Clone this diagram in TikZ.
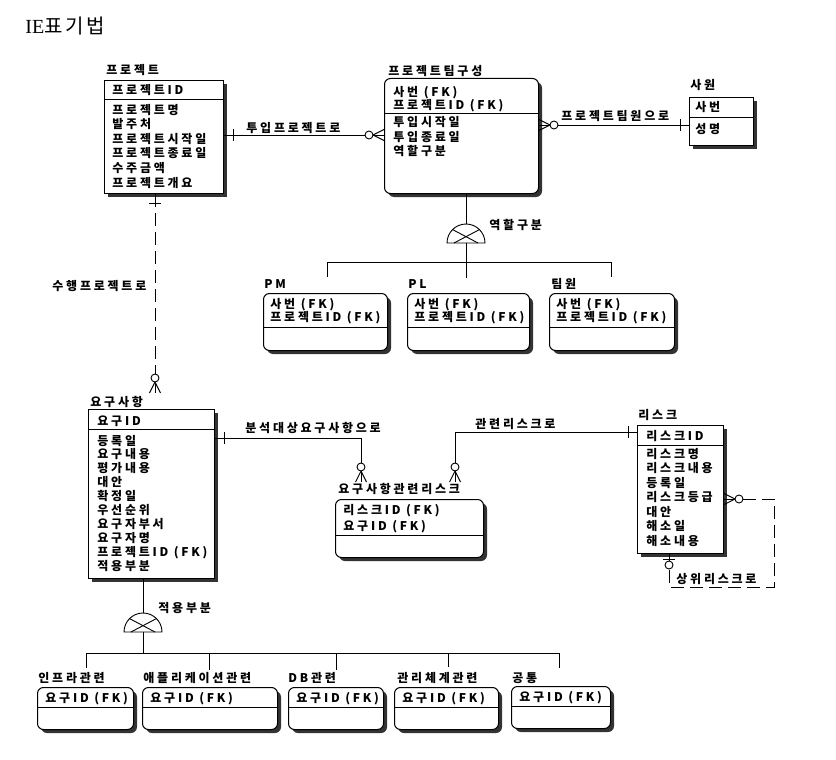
\documentclass[tikz,border=0pt]{standalone}
\usepackage{fontspec}
\newfontfamily\kr[LetterSpace=23]{Noto Sans CJK KR}
\newfontfamily\krt[LetterSpace=14]{Noto Sans CJK KR}
\newfontfamily\serifT{Liberation Serif}
\usetikzlibrary{shadows,calc}
\newcommand\erZmany[2]{\begin{scope}[shift={#1},rotate=#2]
  \draw (0,-5.5) -- (11,0) -- (0,5.5);
  \draw[fill=white] (15,0) circle[radius=4pt];
\end{scope}}
\newcommand\erOne[2]{\begin{scope}[shift={#1},rotate=#2]
  \draw (9,-6) -- (9,6);
\end{scope}}
\newcommand\erZone[2]{\begin{scope}[shift={#1},rotate=#2]
  \draw (5,-6) -- (5,6);
  \draw[fill=white] (11,0) circle[radius=4pt];
\end{scope}}
\newcommand\subsym[1]{%
  \draw ($(#1)+(-19,0)$) arc[start angle=180,end angle=0,radius=19pt] -- cycle;
  \draw ($(#1)+(-13.4,-13.4)$) -- ($(#1)+(12,0)$);
  \draw ($(#1)+(13.4,-13.4)$) -- ($(#1)+(-12,0)$);}
\begin{document}
\begin{tikzpicture}[x=1pt,y=-1pt,line width=0.9pt,
  ent/.style={draw,fill=white,line width=1pt,anchor=north west,inner sep=0pt,
    general shadow={fill=black!80,shadow xshift=3.5pt,shadow yshift=-3.5pt}},
  dep/.style={ent,rounded corners=6pt},
  lab/.style={font=\kr\bfseries\fontsize{12}{13}\selectfont,anchor=base west,inner sep=0pt},
  dsh/.style={dash pattern=on 13pt off 6pt}]
\useasboundingbox (0,0) rectangle (836,760);
\fill[white] (0,0) rectangle (836,760);

% title
\node[anchor=base west,inner sep=0pt] (title) at (25,34) {\fontsize{20}{22}\selectfont\serifT IE\krt 표기법};

% ---------- 프로젝트 ----------
\node[ent,minimum width=119pt,minimum height=113pt] (proj) at (104,80) {};
\draw ($(proj.north west)+(0,19)$) -- ($(proj.north east)+(0,19)$);
\node[lab] (projl) at (106,75) {프로젝트};
\node[lab] (projk) at (112,95) {프로젝트ID};
\foreach \t [count=\i] in {프로젝트명,발주처,프로젝트시작일,프로젝트종료일,수주금액,프로젝트개요}
  \node[lab] (pa\i) at (112,{114+14.6*(\i-1)}) {\t};

% ---------- 프로젝트팀구성 ----------
\node[dep,minimum width=154pt,minimum height=115pt] (team) at (384,78) {};
\draw ($(team.north west)+(0,35)$) -- ($(team.north east)+(0,35)$);
\node[lab] (teaml) at (388,75.5) {프로젝트팀구성};
\node[lab] (tk1) at (393,96) {사번 (FK)};
\node[lab] (tk2) at (393,109.5) {프로젝트ID (FK)};
\foreach \t [count=\i] in {투입시작일,투입종료일,역할구분}
  \node[lab] (ta\i) at (393,{127+14*(\i-1)}) {\t};

% ---------- 사원 ----------
\node[ent,minimum width=64pt,minimum height=48pt] (emp) at (689,97) {};
\draw ($(emp.north west)+(0,20)$) -- ($(emp.north east)+(0,20)$);
\node[lab] (empl) at (690,89.5) {사원};
\node[lab] (ek) at (695,112) {사번};
\node[lab] (ea) at (695,133) {성명};

% ---------- PM / PL / 팀원 ----------
\node[dep,minimum width=124pt,minimum height=57pt] (pm) at (263,293) {};
\node[dep,minimum width=122pt,minimum height=57pt] (pl) at (407,293) {};
\node[dep,minimum width=125pt,minimum height=57pt] (tm) at (549,293) {};
\foreach \n in {pm,pl,tm}{
  \draw ($(\n.north west)+(0,34)$) -- ($(\n.north east)+(0,34)$);
  \node[lab] (\n k1) at ($(\n.north west)+(7,15)$) {사번 (FK)};
  \node[lab] (\n k2) at ($(\n.north west)+(7,28)$) {프로젝트ID (FK)};
}
\node[lab] (pml) at (264,288) {PM};
\node[lab] (pll) at (408,288) {PL};
\node[lab] (tml) at (551,288) {팀원};

% ---------- 요구사항 ----------
\node[ent,minimum width=126pt,minimum height=169pt] (req) at (88,409) {};
\draw ($(req.north west)+(0,20)$) -- ($(req.north east)+(0,20)$);
\node[lab] (reql) at (90,406.5) {요구사항};
\node[lab] (rk) at (97,425) {요구ID};
\foreach \t [count=\i] in {등록일,요구내용,평가내용,대안,확정일,우선순위,요구자부서,요구자명,프로젝트ID (FK),적용부분}
  \node[lab] (ra\i) at (97,{445+13.9*(\i-1)}) {\t};

% ---------- 요구사항관련리스크 ----------
\node[dep,minimum width=148pt,minimum height=58pt] (rr) at (335,499) {};
\draw ($(rr.north west)+(0,36)$) -- ($(rr.north east)+(0,36)$);
\node[lab] (rrl) at (338,493.5) {요구사항관련리스크};
\node[lab] (rrk1) at (343,514) {리스크ID (FK)};
\node[lab] (rrk2) at (343,530) {요구ID (FK)};

% ---------- 리스크 ----------
\node[ent,minimum width=86pt,minimum height=128pt] (risk) at (637,425) {};
\draw ($(risk.north west)+(0,20)$) -- ($(risk.north east)+(0,20)$);
\node[lab] (riskl) at (638,419.5) {리스크};
\node[lab] (rik) at (646,440) {리스크ID};
\foreach \t [count=\i] in {리스크명,리스크내용,등록일,리스크등급,대안,해소일,해소내용}
  \node[lab] (ria\i) at (646,{458+14.5*(\i-1)}) {\t};

% ---------- 하위 유형 (적용부분) ----------
\node[dep,minimum width=96pt,minimum height=42pt] (s1) at (37,687) {};
\node[dep,minimum width=135pt,minimum height=42pt] (s2) at (142,687) {};
\node[dep,minimum width=95pt,minimum height=42pt] (s3) at (288,687) {};
\node[dep,minimum width=104pt,minimum height=42pt] (s4) at (394,687) {};
\node[dep,minimum width=99pt,minimum height=42pt] (s5) at (511,686) {};
\foreach \n in {s1,s2,s3,s4,s5}{
  \draw ($(\n.north west)+(0,20)$) -- ($(\n.north east)+(0,20)$);
  \node[lab] (\n k) at ($(\n.north west)+(8,15)$) {요구ID (FK)};
}
\node[lab] (s1l) at (38,682) {인프라관련};
\node[lab] (s2l) at (143,682) {애플리케이션관련};
\node[lab] (s3l) at (288,682) {DB관련};
\node[lab] (s4l) at (397,682) {관리체계관련};
\node[lab] (s5l) at (512,682) {공통};

% ---------- relationships ----------
% 투입프로젝트로
\coordinate (c1a) at ($(proj.north east)+(0,55)$);
\coordinate (c1b) at ($(team.north west)+(0,57)$);
\draw (c1a) -- (c1b);
\erOne{(c1a)}{0}
\erZmany{(c1b)}{180}
\node[lab] (r1) at (246,132) {투입프로젝트로};

% 프로젝트팀원으로
\coordinate (c2a) at ($(team.north east)+(0,47)$);
\coordinate (c2b) at ($(emp.north west)+(0,28)$);
\draw (c2a) -- (c2b);
\erZmany{(c2a)}{0}
\erOne{(c2b)}{180}
\node[lab] (r2) at (561,121) {프로젝트팀원으로};

% 수행프로젝트로
\coordinate (c3a) at ($(proj.south west)+(51,0)$);
\coordinate (c3b) at ($(req.north west)+(67,-16)$);
\draw[dsh] (c3a) -- (c3b);
\erOne{(c3a)}{-90}
\erZmany{(c3b)}{90}
\node[lab] (r3) at (52,290) {수행프로젝트로};

% 분석대상요구사항으로
\coordinate (c4a) at ($(req.north east)+(0,29)$);
\coordinate (c4b) at ($(rr.north west)+(26,-17)$);
\draw (c4a) -| (c4b);
\erOne{(c4a)}{0}
\erZmany{(c4b)}{90}
\node[lab] (r4) at (245,432.5) {분석대상요구사항으로};

% 관련리스크로
\coordinate (c5a) at ($(risk.north west)+(0,7)$);
\coordinate (c5b) at ($(rr.north west)+(120,-17)$);
\draw (c5a) -| (c5b);
\erOne{(c5a)}{180}
\erZmany{(c5b)}{90}
\node[lab] (r5) at (475,428.5) {관련리스크로};

% 상위리스크로 (recursive)
\coordinate (c6a) at ($(risk.north east)+(0,74)$);
\coordinate (c6b) at ($(risk.south west)+(32,0)$);
\draw[dsh] (c6a) -- ($(c6a)+(50,0)$) -- ($(c6a)+(50,88)$) -| (c6b);
\erZmany{(c6a)}{0}
\erZone{(c6b)}{-90}
\node[lab] (r6) at (676,583) {상위리스크로};

% 역할구분 subtype
\coordinate (g1) at ($(team.south west)+(82,49)$);
\draw ($(g1)+(0,-19)$) -- (g1 |- team.south);
\subsym{g1}
\draw (g1) -- ($(g1)+(0,35)$);
\coordinate (pmtop) at ($(pm.north west)+(64,-16)$);
\coordinate (tmtop) at ($(tm.north west)+(62,-16)$);
\draw (pmtop) -- ($(pmtop)+(0,-15)$) -- ($(tmtop)+(0,-15)$) -- (tmtop);
\node[lab] (g1l) at (489,229) {역할구분};

% 적용부분 subtype
\coordinate (g2) at ($(req.south west)+(55,53)$);
\draw ($(g2)+(0,-19)$) -- (g2 |- req.south);
\subsym{g2}
\draw (g2) -- ($(g2)+(0,22)$);
\draw (86,668) -- (86,653) -- (559,653) -- (559,668);
\draw (209,653) -- (209,670);
\draw (336,653) -- (336,670);
\draw (448,653) -- (448,667);
\node[lab] (g2l) at (158,612) {적용부분};
\end{tikzpicture}
\end{document}
